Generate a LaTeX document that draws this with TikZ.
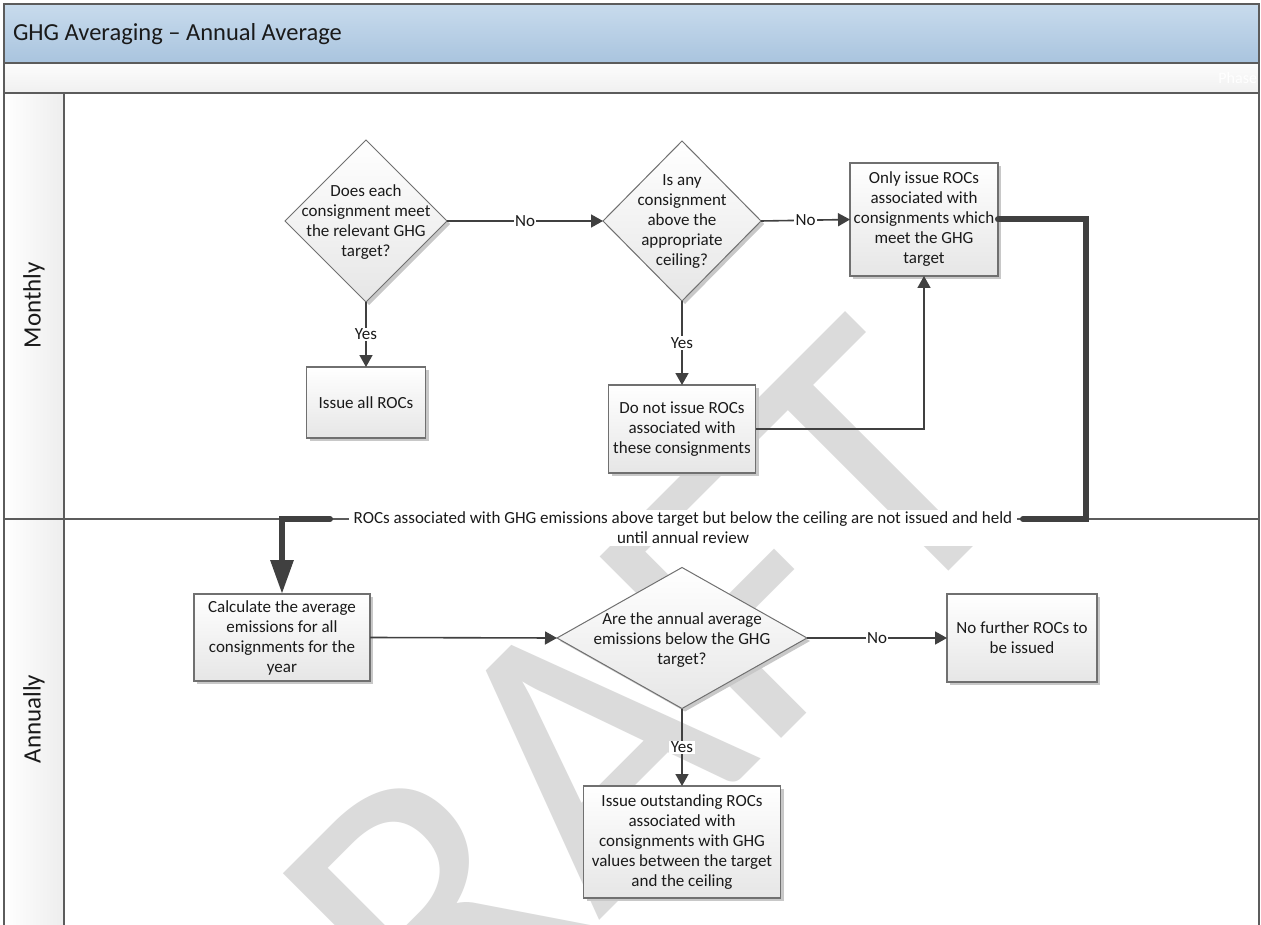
\documentclass[tikz,border=0pt]{standalone}
\usepackage{fontspec}
\setmainfont{Carlito}
\newfontfamily\wmfont{Carlito}
\usetikzlibrary{arrows.meta,shapes.geometric,shadows}
\definecolor{lineC}{HTML}{404040}
\definecolor{frameC}{HTML}{5C5C5C}
\definecolor{boxLine}{HTML}{707070}
\definecolor{wmC}{HTML}{DBDBDB}
\definecolor{titleTop}{HTML}{C8DBED}
\definecolor{titleBot}{HTML}{A9C4DE}
\definecolor{txtC}{HTML}{1A1A1A}
\definecolor{shadowC}{HTML}{C8C8C8}
\definecolor{fillBot}{HTML}{E6E6E6}
\begin{document}
\begin{tikzpicture}[x=1pt,y=-1pt,
  every node/.style={inner sep=0pt, outer sep=0pt},
  body/.style={font=\fontsize{17}{20}\selectfont, text=txtC, align=center},
  box/.style={body, shape=rectangle, draw=boxLine, line width=1.1pt, top color=white, bottom color=fillBot,
    drop shadow={shadow xshift=3pt, shadow yshift=-3pt, fill=shadowC, opacity=1}},
  dia/.style={shape=diamond, draw=boxLine, line width=1pt, top color=white, bottom color=fillBot,
    drop shadow={shadow xshift=3pt, shadow yshift=-3pt, fill=shadowC, opacity=1}},
  diatext/.style={body},
  conn/.style={draw=lineC, line width=1.6pt, -{Triangle[length=12pt,width=13pt]}},
  thickconn/.style={draw=lineC, line width=6pt, line cap=round, line join=miter},
  lbl/.style={body, fill=white, inner xsep=1.5pt, inner ysep=1pt},
  lane/.style={draw=frameC, line width=1.5pt},
  lanelabel/.style={rotate=90, font=\fontsize{25}{29}\selectfont, text=txtC}
]
\useasboundingbox (0,0) rectangle (1261,925);
\fill[white] (0,0) rectangle (1261,925);
% backgrounds
\fill[top color=titleTop, bottom color=titleBot] (4,4) rectangle (1259,63);
\fill[top color=black!1, bottom color=black!6] (4,63) rectangle (1259,93);
\fill[left color=white, right color=black!7] (4,93) rectangle (64,925);
% watermark
\begin{scope}
\clip (64,93) rectangle (1259,925);
\node[rotate=45, anchor=base east, text=wmC, font=\wmfont\fontsize{400}{400}\selectfont] (wm) at (1030,490) {DRAFT};
\end{scope}
% frame
\draw[lane] (4,925) -- (4,4) -- (1259,4) -- (1259,925);
\draw[lane] (4,63) -- (1259,63);
\draw[lane] (4,93) -- (1259,93);
\draw[lane] (64,93) -- (64,925);
\draw[lane] (4,519) -- (1259,519);
% headings
\node[anchor=west, font=\fontsize{24.5}{28}\selectfont, text=txtC] (title) at (13,34) {GHG Averaging -- Annual Average};
\node[anchor=east, font=\fontsize{16}{20}\selectfont, text=white] (phase) at (1257,78) {Phase};
\node[lanelabel] (lm) at (34,305) {Monthly};
\node[lanelabel] (la) at (34,719) {Annually};
% monthly lane
\node[dia, minimum width=162pt, minimum height=162pt] (d1) at (366,221) {};
\node[diatext] (d1t) at (366,222) {Does each\\consignment meet\\the relevant GHG\\target?};
\node[dia, minimum width=158pt, minimum height=160pt] (d2) at (682,221) {};
\node[diatext] (d2t) at (682,222) {Is any\\consignment\\above the\\appropriate\\ceiling?};
\node[box, minimum width=148pt, minimum height=113pt] (b3) at (924,219.5) {Only issue ROCs\\associated with\\consignments which\\meet the GHG\\target};
\node[box, minimum width=119pt, minimum height=71pt] (b1) at (366,402.5) {Issue all ROCs};
\node[box, minimum width=147pt, minimum height=88pt] (b2) at (682,429) {Do not issue ROCs\\associated with\\these consignments};
% annual lane
\node[box, minimum width=176pt, minimum height=87pt] (calc) at (282,637.5) {Calculate the average\\emissions for all\\consignments for the\\year};
\node[dia, minimum width=250pt, minimum height=141pt] (d3) at (682,638) {};
\node[diatext] (d3t) at (682,640) {Are the annual average\\emissions below the GHG\\target?};
\node[box, minimum width=150pt, minimum height=88pt] (b5) at (1022,638) {No further ROCs to\\be issued};
\node[box, minimum width=197pt, minimum height=112pt] (b6) at (682,842) {Issue outstanding ROCs\\associated with\\consignments with GHG\\values between the target\\and the ceiling};
% connectors
\draw[conn] (d1.east) -- node[lbl] (n1) {No} (d2.west);
\draw[conn] (d2.east) -- node[lbl] (n2) {No} (b3.west);
\draw[conn] (d1.south) -- node[lbl] (y1) {Yes} (b1.north);
\draw[conn] (d2.south) -- node[lbl] (y2) {Yes} (b2.north);
\draw[conn] (b2.east) -| (b3.south);
\draw[conn] (calc.east) -- (d3.west);
\draw[conn] (d3.east) -- node[lbl] (n3) {No} (b5.west);
\draw[conn] (d3.south) -- node[lbl] (y3) {Yes} (b6.north);
% thick connector via lane boundary
\coordinate (tc1) at (1086,519);
\coordinate (rgap) at (1023,519);
\coordinate (lgap) at (330,519);
\coordinate (tc2) at (282,519);
\draw[thickconn] (b3.east) -| (tc1) -- (rgap);
\draw[thickconn] (lgap) -- (tc2) -- ([yshift=30pt]calc.north);
\draw[draw=lineC, line width=6pt, -{Triangle[length=34pt,width=22pt]}] ([yshift=32pt]calc.north) -- (calc.north);
\node[body, fill=white, inner xsep=5pt, inner ysep=2pt] (lab) at (683,528) {ROCs associated with GHG emissions above target but below the ceiling are not issued and held\\until annual review};
\end{tikzpicture}
\end{document}
